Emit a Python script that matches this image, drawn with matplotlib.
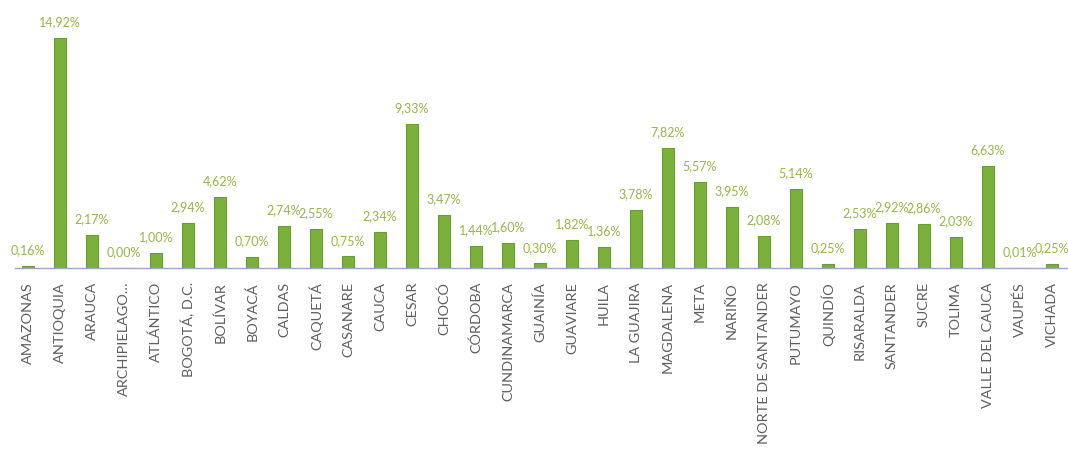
import matplotlib.pyplot as plt

departamentos = ['AMAZONAS', 'ANTIOQUIA', 'ARAUCA', 'ARCHIPIELAGO…', 'ATLÁNTICO',
                 'BOGOTÁ, D.C.', 'BOLÍVAR', 'BOYACÁ', 'CALDAS', 'CAQUETÁ',
                 'CASANARE', 'CAUCA', 'CESAR', 'CHOCÓ', 'CÓRDOBA',
                 'CUNDINAMARCA', 'GUAINÍA', 'GUAVIARE', 'HUILA', 'LA GUAJIRA',
                 'MAGDALENA', 'META', 'NARIÑO', 'NORTE DE SANTANDER', 'PUTUMAYO',
                 'QUINDÍO', 'RISARALDA', 'SANTANDER', 'SUCRE', 'TOLIMA',
                 'VALLE DEL CAUCA', 'VAUPÉS', 'VICHADA']
porcentajes = [0.16, 14.92, 2.17, 0.00, 1.00,
               2.94, 4.62, 0.70, 2.74, 2.55,
               0.75, 2.34, 9.33, 3.47, 1.44,
               1.60, 0.30, 1.82, 1.36, 3.78,
               7.82, 5.57, 3.95, 2.08, 5.14,
               0.25, 2.53, 2.92, 2.86, 2.03,
               6.63, 0.01, 0.25]

plt.rcParams['font.family'] = ['Lato', 'DejaVu Sans']

fig = plt.figure(figsize=(10.68, 4.49), dpi=100)
ax = fig.add_axes([15 / 1068, 181 / 449, 1053 / 1068, 268 / 449])

x = range(len(departamentos))
bars = ax.bar(x, porcentajes, width=0.4, color='#7cb03c',
              edgecolor='#6b9c30', linewidth=0.8)

for rect, v in zip(bars, porcentajes):
    ax.annotate(f'{v:.2f}%'.replace('.', ','),
                (rect.get_x() + rect.get_width() / 2, rect.get_height()),
                xytext=(0, 7), textcoords='offset points',
                ha='center', va='bottom', fontsize=9, color='#98b44c')

ax.set_xlim(-0.406, 32.5)
ax.set_ylim(0, 17.4)
ax.set_xticks(list(x))
ax.set_xticklabels(departamentos, rotation=90, fontsize=10.4, color='#5e5e5e',
                   va='top', ha='center')
ax.tick_params(axis='x', length=0, pad=10)
ax.set_yticks([])
for side in ['top', 'right', 'left']:
    ax.spines[side].set_visible(False)
ax.spines['bottom'].set_color('#a2a6c4')
ax.spines['bottom'].set_linewidth(1.0)

fig.savefig('out.png', dpi=100)
